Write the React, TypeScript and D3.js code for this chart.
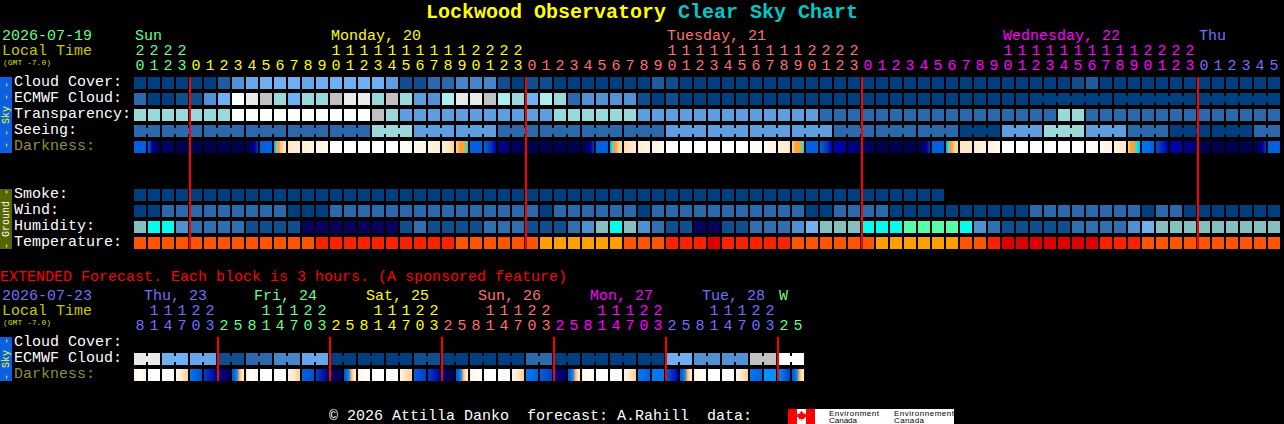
import React from 'react';
import * as d3 from 'd3';

// main block, one cell per hour
const startHour = 20;
const cloudCover = [0,0,0,0,0,0,1.5,3.5,4.5,5,5,5,4.5,5,5,5,5,5,4,1,1,2,2,3,3,3,1,0,1,1,0,0,0,0,0,0,0,1.5,1,0,0,0,0,0,0,0,0,0,0,0,0,0,0,0,0,0,0,0,0,0,0,0,0,0,0,0,0,1,1.5,0,0,0,0,0,0,0,0,0,0,0,0,0];
const ecmwfCloud = [2,0,0,1,1,3.5,5,10,9,8,6,5,6,6,8,9,9,6,8,6,4,3.5,7,9,9,8,7,6,5,7,6,2,3.5,3.5,3.5,3.5,1,0,1,0,0,0,0,0,0,0,0,0,0,0,0,0,0,0,0,0,0,0,0,0,0,0,0,0,0,0,0,0,0,0,0,0,0,0,0,0,0,0,0,0,0,0];
const transparency = [6,6,6,6,6,6,6,10,10,10,10,10,10,10,10,10,10,8,6,4,4,4,4,4,4,4,4,4,4,4,6,6,6,6,6,6,4,4,4,4,4,4,4,4,4,4,4,4,4,2,2,2,2,2,2,2,2,2,2,2,2,2,2,2,2,2,6,6,2,2,2,2,2,2,2,2,2,2,2,2,2,2];
const seeing = [2,2,2,2,2,2,2,2,2,2,2,2,2,2,2,2,2,6,6,6,4,4,4,4,4,4,2,2,2,2,2,2,2,2,2,2,2,2,4,4,4,4,4,4,4,4,4,4,4,4,2,2,2,2,2,2,2,2,2,0,0,0,4,4,4,6,6,6,4,4,4,2,2,2,0,0,0,0,0,0,2,2];
const darkness = [[7],[7,8,9,10,10,11,11],[10,10.5],[11],[11],[11],[11],[11],[11,11,10,9,8],[7],[6,5,4,4,3,3,2,2],[2,1.5],[1.5,1],[1,0.5],[0],[0],[0],[0],[0],[0,0.5],[0.5,1],[1,1.5],[1.5,2,3],[3,4,4,5],[7],[7,8,9],[9.5,10],[10.5,11],[11],[11],[11],[11],[11,11,10,9,8],[7],[6,5,4,4,3,3,2.5],[2.5,1.5],[1.5,1],[1,0.5],[0],[0],[0],[0],[0],[0],[0,0.5],[0.5,1],[1,1.5,2],[3,4,4,5],[7],[7,8,9],[9],[9.5,10],[10.5],[11],[11],[11],[11,11,10,9,8],[7],[6,5,4,4,3,3,2.5],[2],[1.5,1],[1,0.5],[0],[0],[0],[0],[0],[0],[0,0.5],[0.5,1],[1,1.5,2],[3,4,4,5,5.5],[6.5,7],[7.5,9],[9],[9.5,10],[11],[11],[11],[11],[11,11,10,9,8],[7]];
const smoke = [0,0,0,0,0,0,0,0,0,0,0,0,0,0,0,0,0,0,0,0,0,0,0,0,0,0,0,0,0,0,0,0,0,0,0,0,0,0,0,0,0,0,0,0,0,0,0,0,0,0,0,0,0,0,0,0,0,0];
const wind = [0,0,2,2,2,2,2,2,2,2,2,0,0,0,2,2,2,2,2,2,2,2,2,2,2,2,2,2,2,0,2,2,2,2,2,2,0,2,2,2,2,2,2,2,2,2,2,2,0,0,2,2,2,2,0,0,0,0,0,0,0,0,0,0,2,2,2,2,2,2,2,2,0,2,2,0,0,0,0,0,0,0];
const humidity = [5,6,6,3,2,2,2,2,1,1,1,1,0,0,0,0,0,0,0,1,2,1,1,1,1,2,2,2,1,1,1,2,3,5,6,5,3,2,1,1,0,0,1,1,2,2,2,3,4,5,5,5,6,6,6,7,7,7,7,6,3,2,1,1,1,1,1,2,2,2,2,3,4,5,5,5,5,5,5,5,5,5];
const temperature = [1,1,1,1,1,1,1,1,1,1,1,1,1,2,2,2,2,2,2,2,2,2,2,1,1,1,1,1,1,0,0,0,0,0,0,1,1,1,2,2,2,3,2,2,2,2,2,1,1,1,1,1,1,0,0,0,0,0,0,1,1,2,3,3,3,3,3,3,3,2,2,2,1,1,1,1,1,1,1,1,1,1];
const mainDays = [
  { label: 'Sun', col: 0, first: 0, color: '#66ff88' },
  { label: 'Monday, 20', col: 14, first: 4, color: '#ffff00' },
  { label: 'Tuesday, 21', col: 38, first: 28, color: '#ff7070' },
  { label: 'Wednesday, 22', col: 62, first: 52, color: '#ff00ff' },
  { label: 'Thu', col: 76, first: 76, color: '#7070ff' },
];
const midnights = [4, 28, 52, 76];

// extended block, one cell per 3 hours
const extStartHour = 8;
const extCloud = [9,9,5,5,4.5,4.5,1,1,2,2,3,3,4.5,4.5,0,0,0,0,0,0,1,1,0,0,0,0,0,0,2,2,0,0,0,0,0,0,0,0,5,5,3.5,3.5,3.5,3.5,8,8,10,10];
const extDarkness = [[1,0,1.5],[0],[0],[0.5,2,3],[6.5,7.5],[8,9],[9.5,10.5],[7,7,6.5,6,4,3,2,1.5],[1.5,0,1],[0],[0],[1,2,3],[7,7.5],[8,9.5],[10,11],[7.5,7,6.5,6,4,3,2,1.5],[1,0],[0],[0],[1,3],[7,8],[8,9],[10,11],[7,7,6.5,6,4,3,2,1.5],[1,0],[0],[0],[1,2,3],[6.5,7],[7,8],[9.5,10.5],[7,7,6.5,6,4,3,2,1.5],[1,0],[0],[0],[1,2,3],[6.5,7],[6.5],[7,9],[7,7,6.5,6,4,3,2,1.5],[1,0],[0],[0],[1,2,3],[6.5,7],[6],[6,8],[7,7,6.5,6,4,3,2,1.5]];
const extDays = [
  { label: 'Thu, 23', col: 0.71, first: 0, color: '#7070ff' },
  { label: 'Fri, 24', col: 8.57, first: 6, color: '#66ff88' },
  { label: 'Sat, 25', col: 16.57, first: 14, color: '#ffff00' },
  { label: 'Sun, 26', col: 24.57, first: 22, color: '#ff7070' },
  { label: 'Mon, 27', col: 32.57, first: 30, color: '#ff00ff' },
  { label: 'Tue, 28', col: 40.57, first: 38, color: '#7070ff' },
  { label: 'W', col: 46.07, first: 46, color: '#66ff88' },
];
const extMidnights = [6, 14, 22, 30, 38, 46];

const seeingGroups = [0, ...d3.range(2, 82, 3)];
const ecmwfGroups = [64, 70, 76];
const extGroups = d3.range(0, 48, 2);

const cloudColor = d3.scaleLinear<string>()
  .domain([0, 1, 2, 3, 4, 5, 6, 7, 8, 9, 10])
  .range(['#003f7f', '#0f4f8f', '#2b69ac', '#4585c8', '#5d9de0', '#6fb0f5', '#99d9d9', '#aeeeee', '#c1c1c1', '#e9e9e9', '#ffffff']);
const darkColor = d3.scaleLinear<string>()
  .domain([0, 1, 2, 3, 4, 5, 6, 7, 8, 9, 10, 11])
  .range(['#ffffff', '#fff3e2', '#ffe6c8', '#ffcf95', '#ffa030', '#00e8ff', '#0090ff', '#0060e0', '#0040c0', '#0000a8', '#000070', '#000050']);
const humidityColors = ['#08005f', '#0f4f8f', '#3070b0', '#4f90d0', '#70b0f0', '#85c0c0', '#00ffee', '#55ffaa'];
const tempColors = ['#ffa000', '#ff5500', '#ff2000', '#e00000'];

const x = d3.scaleLinear().domain([0, 82]).range([134, 134 + 14 * 82]);
const cell = 12;
const mono = '"Liberation Mono", monospace';

function Row({ y, values, color }: { y: number; values: number[]; color: (v: number) => string }) {
  return <g shapeRendering="crispEdges">
    {values.map((v, i) => <rect key={i} x={x(i)} y={y} width={cell} height={cell} fill={color(v)} />)}
  </g>;
}

// the small joins between cells of one forecast period
function Necks({ y, values, groups, color }: { y: number; values: number[]; groups: number[]; color: (v: number) => string }) {
  return <g shapeRendering="crispEdges">
    {values.map((v, i) => {
      if (i < groups[0] || i === values.length - 1 || groups.includes(i + 1)) return null;
      return <rect key={i} x={x(i) + cell} y={y + 3} width={2} height={6} fill={color(v)} />;
    })}
  </g>;
}

function DarkRow({ y, id, values }: { y: number; id: string; values: number[][] }) {
  return <g shapeRendering="crispEdges">
    <defs>
      {values.map((v, i) => v.length > 1 && (
        <linearGradient key={i} id={`${id}${i}`}>
          {v.map((d, j) => <stop key={j} offset={j / (v.length - 1)} stopColor={darkColor(d)} />)}
        </linearGradient>
      ))}
    </defs>
    {values.map((v, i) => (
      <rect key={i} x={x(i)} y={y} width={cell} height={cell}
        fill={v.length > 1 ? `url(#${id}${i})` : darkColor(v[0])} />
    ))}
  </g>;
}

function Label({ y, text, color = '#ffffff' }: { y: number; text: string; color?: string }) {
  return <text x={14} y={y + 8.5} fill={color} fontSize={15}>{text}</text>;
}

function Side({ y, h, color, text, fill }: { y: number; h: number; color: string; text: string; fill: string }) {
  const cy = y + h / 2;
  return <g>
    <rect x={0} y={y} width={12} height={h} fill={color} shapeRendering="crispEdges" />
    <text transform={`translate(9,${cy}) rotate(-90)`} textAnchor="middle" fontSize={10} fill={fill}
      style={{ whiteSpace: 'pre' }}>{text}</text>
  </g>;
}

function Hours({ y, count, start, step, days }: { y: number; count: number; start: number; step: number; days: { first: number; color: string }[] }) {
  const colorOf = (i: number) => days.filter(d => d.first <= i).slice(-1)[0].color;
  return <g textAnchor="middle" fontSize={15}>
    {d3.range(count).map(i => {
      const hour = (start + i * step) % 24;
      return <g key={i} fill={colorOf(i)}>
        {hour >= 10 && <text x={x(i) + 6} y={y - 15}>{Math.floor(hour / 10)}</text>}
        <text x={x(i) + 6} y={y}>{hour % 10}</text>
      </g>;
    })}
  </g>;
}

export default function App() {
  return (
    <>
      <style>{`body{margin:0;background:#000}`}</style>
      <svg width={1284} height={424} style={{ display: 'block', background: '#000' }} fontFamily={mono}>
        <text x={426} y={18} fontSize={20} fontWeight="bold" fill="#ffff00" style={{ whiteSpace: 'pre' }}>
          Lockwood Observatory <tspan fill="#00c8c8">Clear Sky Chart</tspan>
        </text>

        <text x={2} y={40} fontSize={15} fill="#66ff88">2026-07-19</text>
        <text x={2} y={55} fontSize={15} fill="#c8c800">Local Time</text>
        <text x={3} y={65} fontSize={8} fill="#dddd00">(GMT -7.0)</text>
        {mainDays.map(d => <text key={d.label} x={x(d.col) + 1} y={40} fontSize={15} fill={d.color}>{d.label}</text>)}
        <Hours y={70} count={82} start={startHour} step={1} days={mainDays} />

        <Side y={77} h={76} color="#0a60e0" fill="#ffff00" text="- - Sky - -" />
        <Side y={189} h={60} color="#556600" fill="#ffffff" text="- Ground -" />

        <Label y={77} text="Cloud Cover:" />
        <Label y={93} text="ECMWF Cloud:" />
        <Label y={109} text="Transparency:" />
        <Label y={125} text="Seeing:" />
        <Label y={141} text="Darkness:" color="#8f8f3f" />
        <Label y={189} text="Smoke:" />
        <Label y={205} text="Wind:" />
        <Label y={221} text="Humidity:" />
        <Label y={237} text="Temperature:" />

        <Row y={77} values={cloudCover} color={cloudColor} />
        <Row y={93} values={ecmwfCloud} color={cloudColor} />
        <Necks y={93} values={ecmwfCloud} groups={ecmwfGroups} color={cloudColor} />
        <Row y={109} values={transparency} color={cloudColor} />
        <Row y={125} values={seeing} color={cloudColor} />
        <Necks y={125} values={seeing} groups={seeingGroups} color={cloudColor} />
        <DarkRow y={141} id="dark" values={darkness} />
        <Row y={189} values={smoke} color={cloudColor} />
        <Row y={205} values={wind} color={cloudColor} />
        <Row y={221} values={humidity} color={v => humidityColors[v]} />
        <Row y={237} values={temperature} color={v => tempColors[v]} />

        {midnights.map(m => <rect key={m} x={x(m) - 1} y={77} width={2} height={172} fill="#ff0000" shapeRendering="crispEdges" />)}

        <text x={0} y={280.5} fontSize={15} fill="#ff0000">EXTENDED Forecast. Each block is 3 hours. (A sponsored feature)</text>
        <text x={2} y={300} fontSize={15} fill="#7070ff">2026-07-23</text>
        <text x={2} y={315} fontSize={15} fill="#c8c800">Local Time</text>
        <text x={3} y={325} fontSize={8} fill="#dddd00">(GMT -7.0)</text>
        {extDays.map(d => <text key={d.label} x={x(d.col)} y={300} fontSize={15} fill={d.color}>{d.label}</text>)}
        <Hours y={330} count={48} start={extStartHour} step={3} days={extDays} />

        <Side y={337} h={44} color="#0a60e0" fill="#ffff00" text="- Sky -" />
        <Label y={337} text="Cloud Cover:" />
        <Label y={353} text="ECMWF Cloud:" />
        <Label y={369} text="Darkness:" color="#8f8f3f" />
        <Row y={353} values={extCloud} color={cloudColor} />
        <Necks y={353} values={extCloud} groups={extGroups} color={cloudColor} />
        <DarkRow y={369} id="extdark" values={extDarkness} />
        {extMidnights.map(m => <rect key={m} x={x(m) - 1} y={337} width={2} height={44} fill="#ff0000" shapeRendering="crispEdges" />)}

        <text x={329} y={420} fontSize={15} fill="#ffffff" style={{ whiteSpace: 'pre' }}>© 2026 Attilla Danko  forecast: A.Rahill  data:</text>

        <rect x={788} y={409} width={166} height={15} fill="#ffffff" shapeRendering="crispEdges" />
        <rect x={788} y={409} width={9} height={15} fill="#ff0000" shapeRendering="crispEdges" />
        <rect x={806} y={409} width={9} height={15} fill="#ff0000" shapeRendering="crispEdges" />
        <path d="M801.5 410.5 l1 2 1-.5 -.3 2 1.5-.7 .5 1 1.3-.3 -.5 1.7 .7.5 -2.5 2 .3 1 -2.5-.3 v2 h-.6 v-2 l-2.5.3 .3-1 -2.5-2 .7-.5 -.5-1.7 1.3.3 .5-1 1.5.7 -.3-2 1 .5z" fill="#ff0000" />
        <g fontFamily='"Liberation Sans", sans-serif' fontSize={8} fill="#000000">
          <text x={829} y={416} textLength={50}>Environment</text>
          <text x={829} y={423} textLength={28}>Canada</text>
          <text x={894} y={416} textLength={60}>Environnement</text>
          <text x={894} y={423} textLength={30}>Canada</text>
        </g>
      </svg>
    </>
  );
}
